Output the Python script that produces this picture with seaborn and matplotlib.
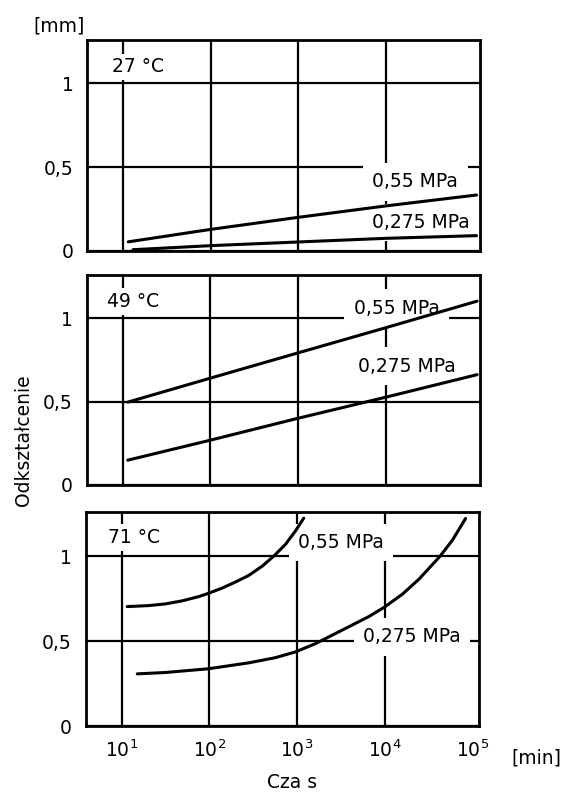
import matplotlib
matplotlib.use("Agg")
import matplotlib.pyplot as plt
import matplotlib.ticker as mticker
import seaborn as sns
import pandas as pd

# ---- data (time in minutes, deformation in mm) ----
temps = ["27 °C", "49 °C", "71 °C"]
pressures = ["0,55 MPa", "0,275 MPa"]

t27_hi = [11.4, 98, 977, 10000, 108000]
d27_hi = [0.053, 0.127, 0.199, 0.268, 0.333]
t27_lo = [12.9, 98, 977, 10000, 108000]
d27_lo = [0.006, 0.030, 0.052, 0.074, 0.090]

t49_hi = [11.4, 98, 955, 10000, 109600]
d49_hi = [0.497, 0.640, 0.790, 0.944, 1.103]
t49_lo = [11.4, 98, 955, 10000, 109600]
d49_lo = [0.149, 0.268, 0.398, 0.527, 0.662]

t71_hi = [11.6, 20.5, 31.7, 49.1, 75.9, 98.6, 140, 199, 282, 400, 542, 736, 957, 1191]
d71_hi = [0.703, 0.709, 0.719, 0.737, 0.762, 0.782, 0.812, 0.848, 0.887, 0.941,
          1.000, 1.069, 1.148, 1.224]
t71_lo = [15.1, 31.6, 97.7, 282, 562, 955, 1622, 2630, 4266, 6607, 9772, 15849,
          24547, 42658, 58884, 83176]
d71_lo = [0.307, 0.315, 0.337, 0.372, 0.402, 0.436, 0.485, 0.540, 0.595, 0.645,
          0.698, 0.776, 0.865, 1.000, 1.094, 1.222]

x_ticks = [10, 100, 1000, 10000, 100000]
x_tick_labels = [r"$10^{1}$", r"$10^{2}$", r"$10^{3}$", r"$10^{4}$", r"$10^{5}$"]
y_ticks = [0, 0.5, 1]
y_tick_labels = ["0", "0,5", "1"]

sns.set_style("white")
plt.rcParams["font.family"] = ["DejaVu Sans"]
plt.rcParams["mathtext.default"] = "regular"
plt.rcParams["text.color"] = "black"
plt.rcParams["xtick.color"] = "black"
plt.rcParams["ytick.color"] = "black"
plt.rcParams["xtick.labelcolor"] = "black"
plt.rcParams["ytick.labelcolor"] = "black"

fig = plt.figure(figsize=(5.63, 7.92), dpi=100)

# axes rectangles [left, bottom, width, height] in figure fraction
rects = [
    [87.3 / 563, 1 - 250.7 / 792, (480 - 87.3) / 563, (250.7 - 40) / 792],
    [86.7 / 563, 1 - 485.0 / 792, (480 - 86.7) / 563, (485.0 - 275) / 792],
    [85.5 / 563, 1 - 726.0 / 792, (479 - 85.5) / 563, (726.0 - 512) / 792],
]

series = [
    (t27_hi, d27_hi, t27_lo, d27_lo),
    (t49_hi, d49_hi, t49_lo, d49_lo),
    (t71_hi, d71_hi, t71_lo, d71_lo),
]

# label placements (x in minutes, y in mm) – layout only
temp_pos = [(7.4, 1.10), (6.6, 1.10), (7.0, 1.11)]
hi_pos = [(7000, 0.413), (4300, 1.06), (1030, 1.08)]
lo_pos = [(7000, 0.168), (4800, 0.714), (5650, 0.525)]

FS = 13.5

for i, (rect, (th, dh, tl, dl)) in enumerate(zip(rects, series)):
    ax = fig.add_axes(rect)
    df = pd.concat([
        pd.DataFrame({"t": th, "d": dh, "p": pressures[0]}),
        pd.DataFrame({"t": tl, "d": dl, "p": pressures[1]}),
    ])
    sns.lineplot(data=df, x="t", y="d", hue="p", units="p", estimator=None,
                 sort=False, palette={pressures[0]: "black", pressures[1]: "black"},
                 legend=False, lw=2.2, ax=ax, zorder=4)
    ax.set_xscale("log")
    ax.set_xlim(3.88, 118300)
    ax.set_ylim(0, 1.26)
    ax.xaxis.set_minor_locator(mticker.NullLocator())
    ax.set_xticks(x_ticks)
    ax.set_yticks(y_ticks)
    ax.set_yticklabels(y_tick_labels, fontsize=FS)
    if i == 2:
        ax.set_xticklabels(x_tick_labels, fontsize=FS)
    else:
        ax.set_xticklabels([])
    ax.tick_params(axis="both", length=0)
    ax.tick_params(axis="y", pad=10)
    ax.tick_params(axis="x", pad=10)
    ax.set_xlabel("")
    ax.set_ylabel("")
    ax.grid(True, color="black", lw=1.6)
    ax.set_axisbelow(True)
    ax.get_xgridlines()[-1].set_visible(False)
    for s in ax.spines.values():
        s.set_visible(True)
        s.set_color("black")
        s.set_linewidth(2.0)
        s.set_zorder(5)

    ax.text(*temp_pos[i], temps[i], fontsize=FS, ha="left", va="center",
            bbox=dict(boxstyle="square,pad=0.2", fc="white", ec="none"), zorder=2)
    ax.text(*hi_pos[i], pressures[0], fontsize=FS, ha="left", va="center",
            bbox=dict(boxstyle="square,pad=0.5", fc="white", ec="none"), zorder=2)
    ax.text(*lo_pos[i], pressures[1], fontsize=FS, ha="left", va="center",
            bbox=dict(boxstyle="square,pad=0.5", fc="white", ec="none"), zorder=2)

fig.text(59 / 563, 1 - 26 / 792, "[mm]", fontsize=FS, ha="center", va="center")
fig.text(536 / 563, 1 - 758 / 792, "[min]", fontsize=FS, ha="center", va="center")
fig.text(292 / 563, 1 - 782 / 792, "Cza s", fontsize=FS, ha="center", va="center")
fig.text(24 / 563, 1 - 440 / 792, "Odkształcenie", fontsize=FS, rotation=90,
         ha="center", va="center")

fig.savefig("out.png", dpi=100)
